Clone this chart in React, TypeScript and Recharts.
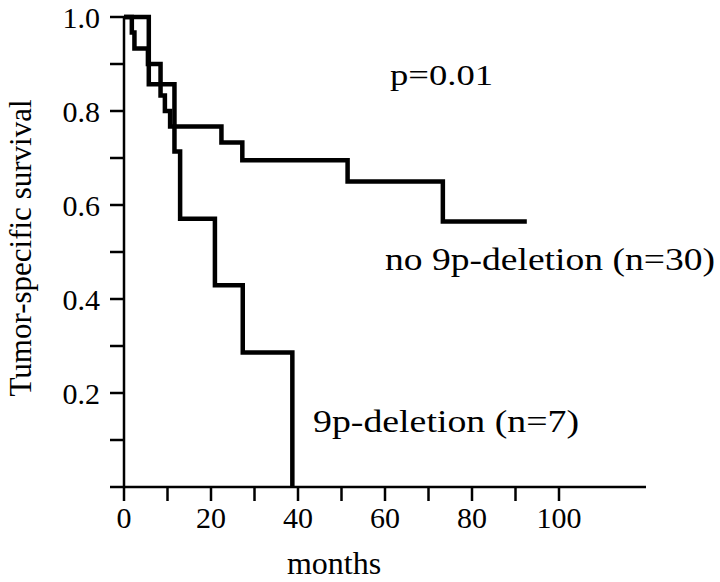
import { LineChart, Line, XAxis, YAxis } from "recharts";

// 9p-deletion (n=7)
const delMonths = [0, 5.7, 11.6, 12.9, 20.9, 27.3, 38.7];
const delSurvival = [1, 0.857, 0.714, 0.571, 0.429, 0.286, 0];

// no 9p-deletion (n=30)
const noDelMonths = [0, 1.8, 2.4, 5.5, 8.4, 9.4, 10.6, 22.4, 27.2, 51.4, 73.3, 92.6];
const noDelSurvival = [1, 0.967, 0.933, 0.9, 0.833, 0.8, 0.767, 0.733, 0.695, 0.65, 0.565, 0.565];

const xTicks = [0, 10, 20, 30, 40, 50, 60, 70, 80, 90, 100];
const yTicks = [0, 0.1, 0.2, 0.3, 0.4, 0.5, 0.6, 0.7, 0.8, 0.9, 1.0];

const FONT = "'Liberation Serif', 'Times New Roman', serif";

const toSeries = (t: number[], s: number[]) => t.map((m, i) => ({ t: m, s: s[i] }));

const delData = toSeries(delMonths, delSurvival);
const noDelData = toSeries(noDelMonths, noDelSurvival);

export default function App() {
    return (
        <div style={{ position: "absolute", left: 0, top: 0, background: "#fff" }}>
            <LineChart width={720} height={582} margin={{ top: 17, right: 74, bottom: 0, left: 0 }}>
                <XAxis
                    type="number"
                    dataKey="t"
                    domain={[0, 120]}
                    ticks={xTicks}
                    interval={0}
                    height={95}
                    tickSize={14}
                    tickMargin={6}
                    stroke="#000"
                    strokeWidth={2.5}
                    tick={{ fontSize: 30, fill: "#000", fontFamily: FONT }}
                    tickFormatter={(v: number) => (v % 20 === 0 ? String(v) : "")}
                />
                <YAxis
                    type="number"
                    domain={[0, 1]}
                    ticks={yTicks}
                    interval={0}
                    width={124}
                    tickSize={14}
                    tickMargin={10}
                    stroke="#000"
                    strokeWidth={2.5}
                    tick={{ fontSize: 30, fill: "#000", fontFamily: FONT }}
                    tickFormatter={(v: number) => {
                        const k = Math.round(v * 10);
                        return k > 0 && k % 2 === 0 ? (k / 10).toFixed(1) : "";
                    }}
                />
                <Line
                    data={noDelData}
                    dataKey="s"
                    type="stepAfter"
                    stroke="#000"
                    strokeWidth={4.5}
                    dot={false}
                    strokeLinejoin="miter"
                    isAnimationActive={false}
                />
                <Line
                    data={delData}
                    dataKey="s"
                    type="stepAfter"
                    stroke="#000"
                    strokeWidth={4.5}
                    dot={false}
                    strokeLinejoin="miter"
                    isAnimationActive={false}
                />
                <text x={390} y={85} fontSize={30} fontFamily={FONT} fill="#000" textLength={103} lengthAdjust="spacingAndGlyphs">
                    p=0.01
                </text>
                <text x={385} y={270} fontSize={32} fontFamily={FONT} fill="#000" textLength={330} lengthAdjust="spacingAndGlyphs">
                    no 9p-deletion (n=30)
                </text>
                <text x={313} y={432} fontSize={32} fontFamily={FONT} fill="#000" textLength={266} lengthAdjust="spacingAndGlyphs">
                    9p-deletion (n=7)
                </text>
                <text x={334} y={574} fontSize={32} fontFamily={FONT} fill="#000" textAnchor="middle">
                    months
                </text>
                <text
                    transform="translate(31, 248) rotate(-90)"
                    fontSize={31}
                    fontFamily={FONT}
                    fill="#000"
                    textAnchor="middle"
                >
                    Tumor-specific survival
                </text>
            </LineChart>
        </div>
    );
}
